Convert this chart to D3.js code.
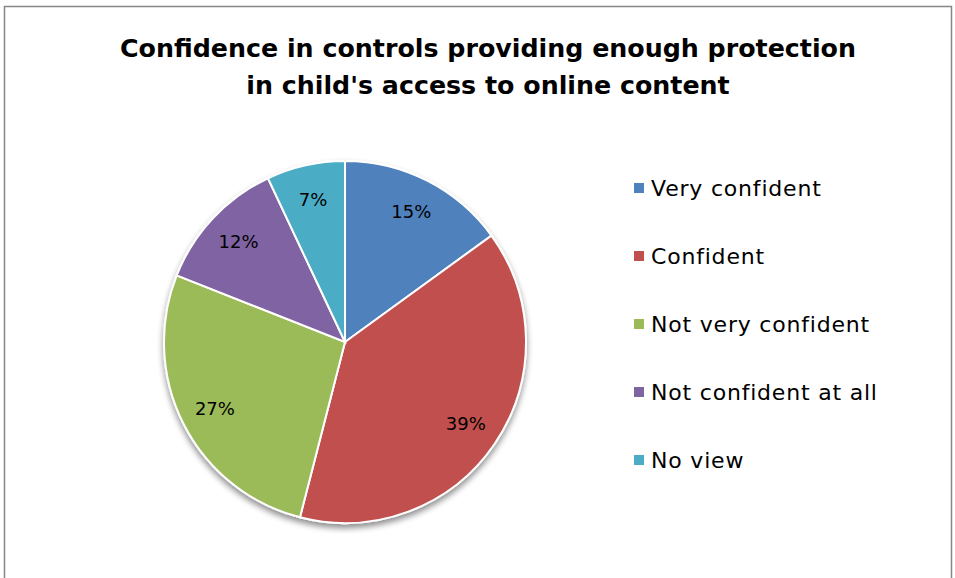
<!DOCTYPE html>
<html>
<head>
<meta charset="utf-8">
<title>Confidence in controls</title>
<script src="https://cdn.jsdelivr.net/npm/d3@7"></script>
<style>
body { margin: 0; background: #fff; }
text { font-family: 'DejaVu Sans', sans-serif; }
</style>
</head>
<body>
<script>
// data
var categories = ["Very confident", "Confident", "Not very confident", "Not confident at all", "No view"];
var values = [15, 39, 27, 12, 7];
var colors = ["#4f81bd", "#c0504d", "#9bbb59", "#8064a2", "#4bacc6"];
var titleLines = ["Confidence in controls providing enough protection", "in child's access to online content"];

var w = 955, h = 578;
var svg = d3.select("body").append("svg").attr("width", w).attr("height", h);

// frame
svg.append("rect").attr("x", 4.5).attr("y", 6.5).attr("width", 947).attr("height", 590)
  .attr("fill", "#fff").attr("stroke", "#868686").attr("stroke-width", 1.5);

var defs = svg.append("defs");
var f = defs.append("filter").attr("id", "shadow").attr("x", "-20%").attr("y", "-20%").attr("width", "140%").attr("height", "140%");
f.append("feGaussianBlur").attr("in", "SourceAlpha").attr("stdDeviation", 3);
f.append("feOffset").attr("dx", 0).attr("dy", 4).attr("result", "b");
f.append("feComponentTransfer").append("feFuncA").attr("type", "linear").attr("slope", 0.45);
var m = f.append("feMerge");
m.append("feMergeNode");
m.append("feMergeNode").attr("in", "SourceGraphic");

// title
svg.append("g").selectAll("text").data(titleLines).enter().append("text")
  .attr("x", 488).attr("y", function(d, i) { return 57 + i * 37; })
  .attr("text-anchor", "middle").attr("font-size", 25.3).attr("font-weight", "bold")
  .attr("fill", "#000").text(function(d) { return d; });

var cx = 345, cy = 342, R = 181;
var pie = d3.pie().sort(null).value(function(d) { return d; });
var arc = d3.arc().innerRadius(0).outerRadius(R);
var labelArc = d3.arc().innerRadius(146).outerRadius(146);

var g = svg.append("g").attr("transform", "translate(" + cx + "," + cy + ")");
g.append("g").attr("filter", "url(#shadow)")
  .selectAll("path").data(pie(values)).enter().append("path")
  .attr("d", arc).attr("fill", function(d, i) { return colors[i]; })
  .attr("stroke", "#fff").attr("stroke-width", 2);

g.selectAll("text.lbl").data(pie(values)).enter().append("text")
  .attr("class", "lbl")
  .attr("transform", function(d) { return "translate(" + labelArc.centroid(d) + ")"; })
  .attr("text-anchor", "middle").attr("dy", "0.35em")
  .attr("font-size", 18).attr("fill", "#000")
  .text(function(d) { return d.value + "%"; });

// legend
var leg = svg.append("g").selectAll("g").data(categories).enter().append("g")
  .attr("transform", function(d, i) { return "translate(634," + (188 + i * 68) + ")"; });
leg.append("rect").attr("x", 0).attr("y", -5).attr("width", 10).attr("height", 10)
  .attr("fill", function(d, i) { return colors[i]; });
leg.append("text").attr("x", 17).attr("dy", "0.36em").attr("font-size", 22)
  .attr("letter-spacing", 0.8).attr("fill", "#000")
  .text(function(d) { return d; });
</script>
</body>
</html>
